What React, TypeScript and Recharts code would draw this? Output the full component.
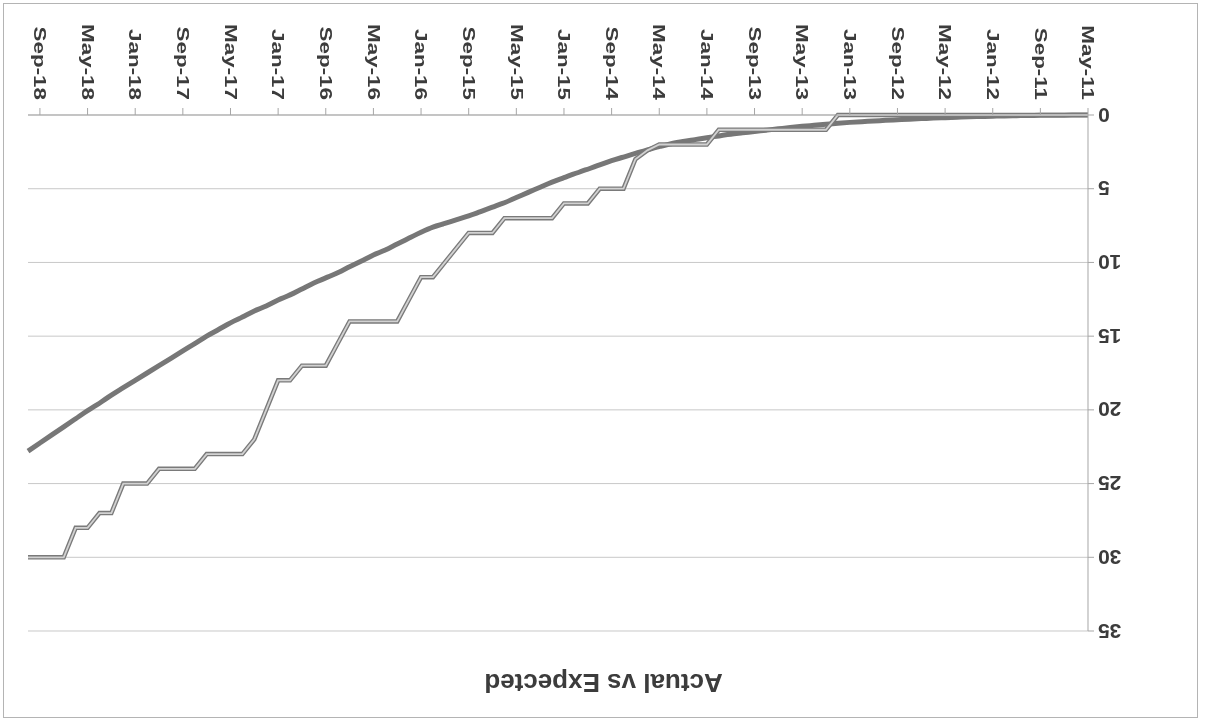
import { LineChart, Line, XAxis, YAxis, CartesianGrid } from 'recharts';

// monthly categories, May-11 .. Oct-18
const months = [
  'May-11', 'Jun-11', 'Jul-11', 'Aug-11', 'Sep-11', 'Oct-11', 'Nov-11', 'Dec-11',
  'Jan-12', 'Feb-12', 'Mar-12', 'Apr-12', 'May-12', 'Jun-12', 'Jul-12', 'Aug-12', 'Sep-12', 'Oct-12', 'Nov-12', 'Dec-12',
  'Jan-13', 'Feb-13', 'Mar-13', 'Apr-13', 'May-13', 'Jun-13', 'Jul-13', 'Aug-13', 'Sep-13', 'Oct-13', 'Nov-13', 'Dec-13',
  'Jan-14', 'Feb-14', 'Mar-14', 'Apr-14', 'May-14', 'Jun-14', 'Jul-14', 'Aug-14', 'Sep-14', 'Oct-14', 'Nov-14', 'Dec-14',
  'Jan-15', 'Feb-15', 'Mar-15', 'Apr-15', 'May-15', 'Jun-15', 'Jul-15', 'Aug-15', 'Sep-15', 'Oct-15', 'Nov-15', 'Dec-15',
  'Jan-16', 'Feb-16', 'Mar-16', 'Apr-16', 'May-16', 'Jun-16', 'Jul-16', 'Aug-16', 'Sep-16', 'Oct-16', 'Nov-16', 'Dec-16',
  'Jan-17', 'Feb-17', 'Mar-17', 'Apr-17', 'May-17', 'Jun-17', 'Jul-17', 'Aug-17', 'Sep-17', 'Oct-17', 'Nov-17', 'Dec-17',
  'Jan-18', 'Feb-18', 'Mar-18', 'Apr-18', 'May-18', 'Jun-18', 'Jul-18', 'Aug-18', 'Sep-18', 'Oct-18',
];

const actual = [
  0, 0, 0, 0, 0, 0, 0, 0,
  0, 0, 0, 0, 0, 0, 0, 0, 0, 0, 0, 0,
  0, 0, 1, 1, 1, 1, 1, 1, 1, 1, 1, 1,
  2, 2, 2, 2, 2, 2.4, 3, 5, 5, 5, 6, 6,
  6, 7, 7, 7, 7, 7, 8, 8, 8, 9, 10, 11,
  11, 12.5, 14, 14, 14, 14, 14, 15.5, 17, 17, 17, 18,
  18, 20, 22, 23, 23, 23, 23, 24, 24, 24, 24, 25,
  25, 25, 27, 27, 28, 28, 30, 30, 30, 30,
];

const expected = [
  0, 0.005, 0.01, 0.02, 0.025, 0.03, 0.045, 0.06,
  0.08, 0.1, 0.12, 0.15, 0.18, 0.21, 0.245, 0.28, 0.32, 0.36, 0.41, 0.45,
  0.5, 0.56, 0.63, 0.7, 0.77, 0.85, 0.94, 1.03, 1.12, 1.21, 1.3, 1.42,
  1.54, 1.67, 1.8, 1.95, 2.15, 2.37, 2.6, 2.85, 3.1, 3.38, 3.68, 3.95,
  4.25, 4.55, 4.9, 5.25, 5.6, 5.95, 6.25, 6.55, 6.85, 7.1, 7.35, 7.6,
  7.95, 8.35, 8.75, 9.15, 9.5, 9.9, 10.3, 10.7, 11.05, 11.4, 11.8, 12.2,
  12.55, 12.95, 13.3, 13.7, 14.1, 14.55, 15.0, 15.5, 16.0, 16.5, 17.0, 17.5,
  18.0, 18.5, 19.0, 19.55, 20.05, 20.6, 21.15, 21.7, 22.25, 22.8,
];

const yTicks = [0, 5, 10, 15, 20, 25, 30, 35];

const data = months.map((month, i) => ({
  month,
  actual: actual[i],
  expected: expected[i],
}));

const FONT = '"Liberation Sans", Arial, sans-serif';
const TEXT = '#3c3c3c';
const AXIS = '#a6a6a6';

function MonthTick({ x, y, payload }: any) {
  return (
    <g transform={`translate(${x},${y})`}>
      <text
        transform="rotate(-90) scale(1.4,1)"
        x={0}
        y={0}
        dy="0.36em"
        textAnchor="end"
        fill={TEXT}
        fontSize={16}
        fontWeight="bold"
        fontFamily={FONT}
      >
        {payload.value}
      </text>
    </g>
  );
}

export default function App() {
  // the reference is a scan printed upside down, so the whole chart is turned 180deg
  return (
    <div
      style={{
        position: 'fixed',
        left: 0,
        top: 0,
        width: 1207,
        height: 721,
        background: '#fff',
        transform: 'rotate(180deg)',
        overflow: 'hidden',
      }}
    >
      <div
        style={{
          position: 'absolute',
          left: 9,
          top: 3,
          width: 1195,
          height: 715,
          boxSizing: 'border-box',
          border: '1px solid #b4b4b4',
        }}
      />
      <div
        style={{
          position: 'absolute',
          left: 0,
          top: 22,
          width: 1207,
          textAlign: 'center',
          fontFamily: FONT,
          fontWeight: 'bold',
          fontSize: 26,
          lineHeight: '32px',
          color: TEXT,
        }}
      >
        Actual vs Expected
      </div>
      <div style={{ position: 'absolute', left: 0, top: 0 }}>
        <LineChart
          width={1207}
          height={721}
          data={data}
          margin={{ top: 90, right: 28, left: 0, bottom: 15 }}
        >
          <CartesianGrid vertical={false} stroke="#c8c8c8" />
          <XAxis
            dataKey="month"
            interval={3}
            height={100}
            tickSize={7}
            tickMargin={8}
            tick={<MonthTick />}
            axisLine={{ stroke: AXIS }}
            tickLine={{ stroke: AXIS }}
          />
          <YAxis
            domain={[0, 35]}
            ticks={yTicks}
            width={119}
            tickSize={6}
            tickMargin={4}
            axisLine={{ stroke: AXIS }}
            tickLine={{ stroke: AXIS }}
            tick={{ fill: TEXT, fontSize: 21, fontWeight: 'bold', fontFamily: FONT }}
          />
          <Line
            dataKey="expected"
            type="monotone"
            stroke="#777777"
            strokeWidth={5}
            dot={false}
            isAnimationActive={false}
          />
          <Line
            dataKey="actual"
            type="linear"
            stroke="#7a7a7a"
            strokeWidth={4.5}
            dot={false}
            isAnimationActive={false}
          />
          <Line
            dataKey="actual"
            type="linear"
            stroke="#d2d2d2"
            strokeWidth={1.8}
            dot={false}
            isAnimationActive={false}
          />
        </LineChart>
      </div>
    </div>
  );
}
